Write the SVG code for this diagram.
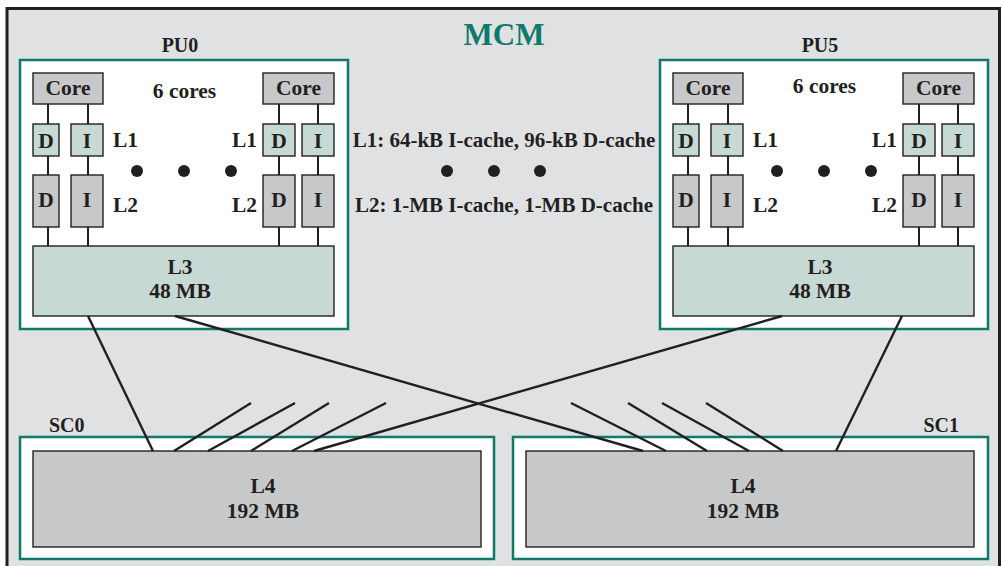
<svg xmlns="http://www.w3.org/2000/svg" width="1002" height="566" viewBox="0 0 1002 566">
<style>
text{font-family:"Liberation Serif","Times New Roman",serif;font-weight:bold;fill:#231f20;font-size:21.5px}
.c{text-anchor:middle}
.e{text-anchor:end}
.m{font-size:21px}
.frame{fill:#ffffff;stroke:#0f7a6a;stroke-width:2.5}
.gray{fill:#c7c8ca;stroke:#231f20;stroke-width:1.4}
.lt{fill:#c7d9d5;stroke:#231f20;stroke-width:1.4}
.w{stroke:#231f20;stroke-width:2;fill:none}
.ln{stroke:#231f20;stroke-width:2.4;fill:none;stroke-linecap:butt}
.dot{fill:#231f20}
</style>
<rect x="7" y="8.5" width="992.5" height="570" fill="#e0e1e3" stroke="#231f20" stroke-width="3"/>
<text class="c" x="504" y="45" style="fill:#0f7a6a;font-size:31px">MCM</text>

<g id="PU0">
<text class="c" x="180" y="52" style="font-size:20px">PU0</text>
<rect class="frame" x="20" y="60" width="328" height="269"/>
<path class="w" d="M48 104V246M88 104V246M279 104V246M318 104V246"/>
<rect class="gray" x="33" y="73" width="70" height="31"/>
<text class="c" x="68" y="95">Core</text>
<rect class="gray" x="263" y="73" width="71" height="31"/>
<text class="c" x="298.5" y="95">Core</text>
<text class="c" x="184.5" y="98">6 cores</text>
<rect class="lt" x="33" y="124" width="26" height="32"/>
<text class="c" x="46" y="148">D</text>
<rect class="lt" x="71" y="124" width="32" height="32"/>
<text class="c" x="87" y="148">I</text>
<rect class="gray" x="33" y="175" width="26" height="52"/>
<text class="c" x="46" y="207">D</text>
<rect class="gray" x="71" y="175" width="32" height="52"/>
<text class="c" x="87" y="207">I</text>
<rect class="lt" x="263" y="124" width="32" height="32"/>
<text class="c" x="279" y="148">D</text>
<rect class="lt" x="302" y="124" width="32" height="32"/>
<text class="c" x="318" y="148">I</text>
<rect class="gray" x="263" y="175" width="32" height="52"/>
<text class="c" x="279" y="207">D</text>
<rect class="gray" x="302" y="175" width="32" height="52"/>
<text class="c" x="318" y="207">I</text>
<text x="113" y="147">L1</text>
<text x="113" y="212">L2</text>
<text class="e" x="257" y="147">L1</text>
<text class="e" x="257" y="212">L2</text>
<circle class="dot" cx="137" cy="171" r="6"/>
<circle class="dot" cx="184" cy="171" r="6"/>
<circle class="dot" cx="231" cy="171" r="6"/>
<rect class="lt" x="33" y="246" width="301" height="70"/>
<text class="c" x="180" y="274">L3</text>
<text class="c" x="180" y="298">48 MB</text>
</g>

<g id="PU5" transform="translate(640,0)">
<text class="c" x="180" y="52" style="font-size:20px">PU5</text>
<rect class="frame" x="20" y="60" width="328" height="269"/>
<path class="w" d="M48 104V246M88 104V246M279 104V246M318 104V246"/>
<rect class="gray" x="33" y="73" width="70" height="31"/>
<text class="c" x="68" y="95">Core</text>
<rect class="gray" x="263" y="73" width="71" height="31"/>
<text class="c" x="298.5" y="95">Core</text>
<text class="c" x="184.5" y="93">6 cores</text>
<rect class="lt" x="33" y="124" width="26" height="32"/>
<text class="c" x="46" y="148">D</text>
<rect class="lt" x="71" y="124" width="32" height="32"/>
<text class="c" x="87" y="148">I</text>
<rect class="gray" x="33" y="175" width="26" height="52"/>
<text class="c" x="46" y="207">D</text>
<rect class="gray" x="71" y="175" width="32" height="52"/>
<text class="c" x="87" y="207">I</text>
<rect class="lt" x="263" y="124" width="32" height="32"/>
<text class="c" x="279" y="148">D</text>
<rect class="lt" x="302" y="124" width="32" height="32"/>
<text class="c" x="318" y="148">I</text>
<rect class="gray" x="263" y="175" width="32" height="52"/>
<text class="c" x="279" y="207">D</text>
<rect class="gray" x="302" y="175" width="32" height="52"/>
<text class="c" x="318" y="207">I</text>
<text x="113" y="147">L1</text>
<text x="113" y="212">L2</text>
<text class="e" x="257" y="147">L1</text>
<text class="e" x="257" y="212">L2</text>
<circle class="dot" cx="137" cy="171" r="6"/>
<circle class="dot" cx="184" cy="171" r="6"/>
<circle class="dot" cx="231" cy="171" r="6"/>
<rect class="lt" x="33" y="246" width="301" height="70"/>
<text class="c" x="180" y="274">L3</text>
<text class="c" x="180" y="298">48 MB</text>
</g>

<g id="legend">
<text class="c m" x="504" y="147">L1: 64-kB I-cache, 96-kB D-cache</text>
<circle class="dot" cx="447" cy="171" r="6"/>
<circle class="dot" cx="494" cy="171" r="6"/>
<circle class="dot" cx="540" cy="171" r="6"/>
<text class="c m" x="504" y="212">L2: 1-MB I-cache, 1-MB D-cache</text>
</g>

<g id="SC0">
<text x="49" y="432" style="font-size:20px">SC0</text>
<rect class="frame" x="20" y="437" width="474" height="122"/>
<rect class="gray" x="33" y="451" width="448" height="96"/>
<text class="c" x="263" y="493">L4</text>
<text class="c" x="263" y="518">192 MB</text>
</g>

<g id="SC1">
<text class="e" x="959" y="432" style="font-size:20px">SC1</text>
<rect class="frame" x="513" y="437" width="475" height="122"/>
<rect class="gray" x="526" y="451" width="448" height="96"/>
<text class="c" x="743" y="493">L4</text>
<text class="c" x="743" y="518">192 MB</text>
</g>

<g id="connectors">
<path class="ln" d="M88 316L153 451"/>
<path class="ln" d="M175 316L643 451"/>
<path class="ln" d="M782 316L314 451"/>
<path class="ln" d="M902 316L836 451"/>
<path class="ln" d="M174 451L251 403M208 451L295 403M251 451L329 403M292 451L386 403"/>
<path class="ln" d="M571 403L666 451M628 403L707 451M662 403L749 451M706 403L783 451"/>
</g>
</svg>
